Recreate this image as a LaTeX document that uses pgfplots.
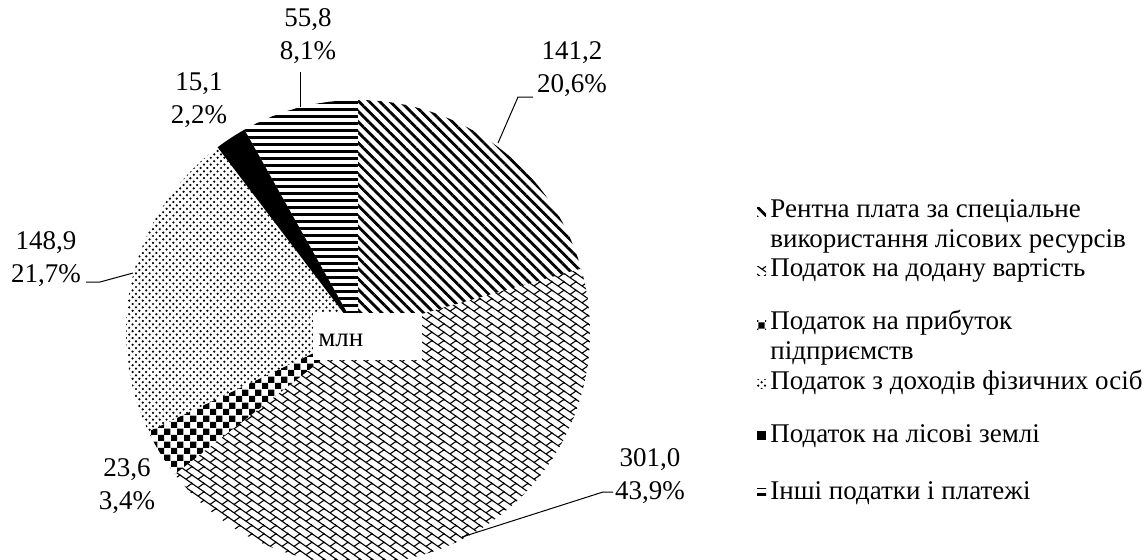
\documentclass[border=0pt]{standalone}
\usepackage{pgfplots}
\pgfplotsset{compat=1.18}
\usepackage{pgfplotstable}
\usetikzlibrary{patterns,patterns.meta}
\usepackage{fontspec}
\setmainfont{Liberation Serif}

\pgfdeclarepatternformonly{brick}{\pgfpoint{-0.5pt}{-0.5pt}}{\pgfpoint{6.5pt}{4.7pt}}{\pgfpoint{6pt}{4.2pt}}{%
  \pgfsetlinewidth{0.55pt}%
  \pgfpathmoveto{\pgfpoint{-0.6pt}{4.62pt}}\pgfpathlineto{\pgfpoint{6.6pt}{-0.42pt}}%
  \pgfpathmoveto{\pgfpoint{3pt}{2.1pt}}\pgfpathlineto{\pgfpoint{6pt}{4.2pt}}%
  \pgfusepath{stroke}}
\pgfdeclarepatternformonly{hstripes}{\pgfpoint{-0.5pt}{0pt}}{\pgfpoint{4.5pt}{3.5pt}}{\pgfpoint{4pt}{3.5pt}}{%
  \pgfpathrectangle{\pgfpoint{-0.5pt}{0pt}}{\pgfpoint{5pt}{1.75pt}}%
  \pgfusepath{fill}}
\pgfdeclarepatternformonly{bigchecker}{\pgfpointorigin}{\pgfpoint{6.6pt}{6.6pt}}{\pgfpoint{6.6pt}{6.6pt}}{%
  \pgfpathrectangle{\pgfpointorigin}{\pgfpoint{3.3pt}{3.3pt}}%
  \pgfpathrectangle{\pgfpoint{3.3pt}{3.3pt}}{\pgfpoint{3.3pt}{3.3pt}}%
  \pgfusepath{fill}}
\pgfdeclarepatternformonly{finedots}{\pgfpoint{-1pt}{-1pt}}{\pgfpoint{4.4pt}{4.4pt}}{\pgfpoint{3.4pt}{3.4pt}}{%
  \pgfpathcircle{\pgfpoint{0pt}{0pt}}{0.62pt}%
  \pgfpathcircle{\pgfpoint{1.7pt}{1.7pt}}{0.62pt}%
  \pgfusepath{fill}}

\pgfplotstableread{
value pct
141.2 20.6
301.0 43.9
23.6  3.4
148.9 21.7
15.1  2.2
55.8  8.1
}\piedata

\pgfplotstablegetelem{0}{value}\of\piedata\let\vA\pgfplotsretval
\pgfplotstablegetelem{1}{value}\of\piedata\let\vB\pgfplotsretval
\pgfplotstablegetelem{2}{value}\of\piedata\let\vC\pgfplotsretval
\pgfplotstablegetelem{3}{value}\of\piedata\let\vD\pgfplotsretval
\pgfplotstablegetelem{4}{value}\of\piedata\let\vE\pgfplotsretval
\pgfplotstablegetelem{5}{value}\of\piedata\let\vF\pgfplotsretval
\pgfmathsetmacro\total{\vA+\vB+\vC+\vD+\vE+\vF}
\pgfmathsetmacro\aA{90}
\pgfmathsetmacro\aB{\aA-360*(\vA/\total)}
\pgfmathsetmacro\aC{\aB-360*(\vB/\total)}
\pgfmathsetmacro\aD{\aC-360*(\vC/\total)}
\pgfmathsetmacro\aE{\aD-360*(\vD/\total)}
\pgfmathsetmacro\aF{\aE-360*(\vE/\total)}
\pgfmathsetmacro\aG{\aF-360*(\vF/\total)}

\tikzset{
  pA/.style={pattern={Lines[angle=-45,distance=3.7pt,line width=1.4pt]}},
  pB/.style={pattern=brick},
  pC/.style={pattern=bigchecker},
  pD/.style={pattern=finedots},
  pE/.style={fill=black},
  pF/.style={pattern=hstripes},
  lbl/.style={align=center,font=\fontsize{13.5}{16.5}\selectfont},
  leg/.style={anchor=west,align=left,inner sep=0pt,font=\fontsize{13.5}{15}\selectfont},
}

\begin{document}%
\begin{tikzpicture}
\begin{axis}[width=573pt,height=279.5pt,scale only axis,
  xmin=0,xmax=1146,ymin=0,ymax=559,y dir=reverse,hide axis]
\addplot[draw=none,pA,domain=\aB:\aA,samples=80,variable=\t] ({358+232*cos(\t)},{332-232*sin(\t)}) -- (axis cs:358,332) -- cycle;
\addplot[draw=none,pB,domain=\aC:\aB,samples=120,variable=\t] ({358+232*cos(\t)},{332-232*sin(\t)}) -- (axis cs:358,332) -- cycle;
\addplot[draw=none,pC,domain=\aD:\aC,samples=30,variable=\t] ({358+232*cos(\t)},{332-232*sin(\t)}) -- (axis cs:358,332) -- cycle;
\addplot[draw=none,pD,domain=\aE:\aD,samples=80,variable=\t] ({358+232*cos(\t)},{332-232*sin(\t)}) -- (axis cs:358,332) -- cycle;
\addplot[draw=none,pE,domain=\aF:\aE,samples=30,variable=\t] ({358+232*cos(\t)},{332-232*sin(\t)}) -- (axis cs:358,332) -- cycle;
\addplot[draw=none,pF,domain=\aG:\aF,samples=50,variable=\t] ({358+232*cos(\t)},{332-232*sin(\t)}) -- (axis cs:358,332) -- cycle;
% centre box
\fill[white] (axis cs:313,313) rectangle (axis cs:422,360);
\node[font=\fontsize{13.5}{15}\selectfont,anchor=west,inner sep=0pt] at (axis cs:318,340) {млн};
% data labels
\node[lbl] at (axis cs:308,36) {55,8\\8,1\%};
\node[lbl] at (axis cs:199,100) {15,1\\2,2\%};
\node[lbl] at (axis cs:572,69) {141,2\\20,6\%};
\node[lbl] at (axis cs:46,259) {148,9\\21,7\%};
\node[lbl] at (axis cs:127,486) {23,6\\3,4\%};
\node[lbl] at (axis cs:650,476) {301,0\\43,9\%};
% leader lines
\draw[line width=0.5pt] (axis cs:300,72) -- (axis cs:300,107);
\draw[line width=0.5pt] (axis cs:533,97) -- (axis cs:518,97) -- (axis cs:498,143);
\draw[line width=0.5pt] (axis cs:86,282) -- (axis cs:100,282) -- (axis cs:133,273);
\draw[line width=0.5pt] (axis cs:613,492) -- (axis cs:603,492) -- (axis cs:462,537);
% legend
\fill[pA] (axis cs:757,207) rectangle (axis cs:766,216);
\node[leg] at (axis cs:770,226) {Рентна плата за спеціальне\\використання лісових ресурсів};
\fill[pB] (axis cs:757,266) rectangle (axis cs:766,275);
\node[leg] at (axis cs:770,270) {Податок на додану вартість};
\fill[pC] (axis cs:757,320) rectangle (axis cs:766,329);
\node[leg] at (axis cs:770,338) {Податок на прибуток\\підприємств};
\fill[pD] (axis cs:757,379) rectangle (axis cs:766,388);
\node[leg] at (axis cs:770,383) {Податок з доходів фізичних осіб};
\fill[pE] (axis cs:757,431) rectangle (axis cs:766,440);
\node[leg] at (axis cs:770,436) {Податок на лісові землі};
\fill[pF] (axis cs:757,488) rectangle (axis cs:766,497);
\node[leg] at (axis cs:770,493) {Інші податки і платежі};
\end{axis}
\pgfresetboundingbox
\useasboundingbox (current axis.south west) rectangle (current axis.north east);
\end{tikzpicture}%
\end{document}
